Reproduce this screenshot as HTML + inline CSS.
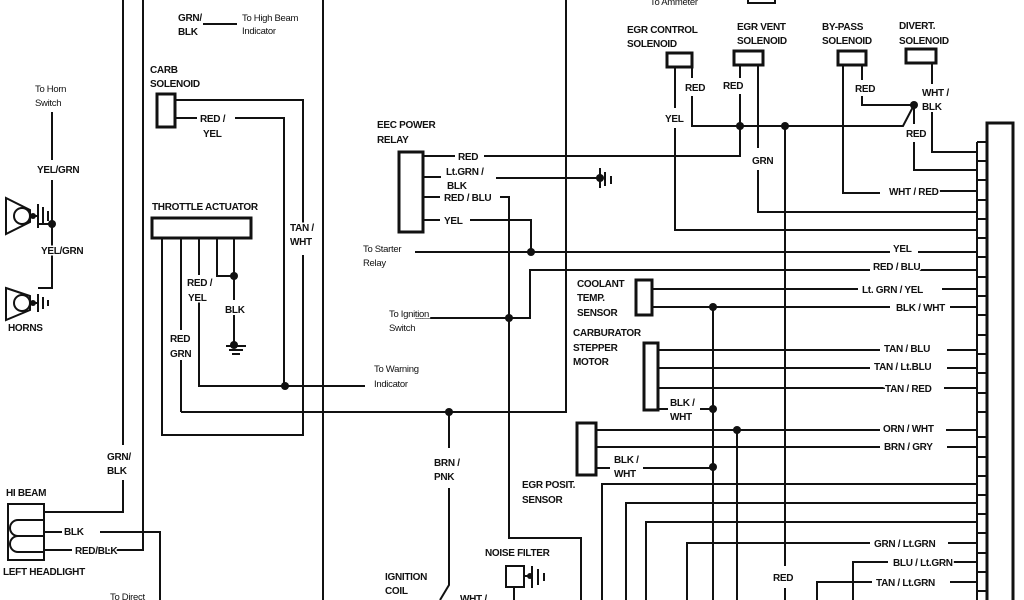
<!DOCTYPE html>
<html><head><meta charset="utf-8"><style>
html,body{margin:0;padding:0;background:#fff}
svg{display:block}
text{font-family:"Liberation Sans",Arial,sans-serif;font-weight:bold;font-size:10px;fill:#111;stroke:#fff;stroke-width:3px;paint-order:stroke;letter-spacing:-0.3px}
.s{font-size:9.5px;font-weight:normal}
</style></head><body>
<svg width="1024" height="600" viewBox="0 0 1024 600" xmlns="http://www.w3.org/2000/svg">
<g fill="none" stroke="#111" stroke-width="2">
<!-- long verticals -->
<path d="M123 0V445M123 480V512H44"/>
<path d="M143 0V550H105"/>
<path d="M323 0V600"/>
<path d="M566 0V412H181"/>
<!-- hi beam -->
<rect x="8" y="504" width="36" height="56"/>
<path d="M44 520H18a8 8 0 0 0 0 16H44M44 536H18a8 8 0 0 0 0 16H44"/>
<path d="M44 532H62M100 532H160V600M44 550H72"/>
<!-- horns -->
<path d="M52 112V160M52 180V288H38M52 224H38M52 260V240"/>
<path d="M6 198L30 210L30 222L6 234Z"/>
<circle cx="22" cy="216" r="8"/>
<path d="M30 216H38M38 204V228M43 207V225M48 211V221"/>
<path d="M6 288L30 296L30 310L6 320Z"/>
<circle cx="22" cy="303" r="8"/>
<path d="M30 303H38M38 294V312M43 297V309M48 300V306"/>
<!-- carb solenoid -->
<rect x="157" y="94" width="18" height="33" stroke-width="3"/>
<path d="M175 100H303V230M303 255V435H162V238M175 118H197M235 118H284V386H199V300M284 386H365"/>
<!-- throttle -->
<rect x="152" y="218" width="99" height="20" stroke-width="3"/>
<path d="M181 238V330M181 360V412M199 238V275M217 238V276H234V238M234 276V300M234 315V345M226 346H246M229 350H243M232 354H240"/>
<!-- EEC relay -->
<rect x="399" y="152" width="24" height="80" stroke-width="3"/>
<path d="M423 156H455M484 156H740V126M423 177H441M496 178H600"/>
<path d="M600 168V188M605 172V186M611 176V184"/>
<path d="M423 197H440M500 197H509V538H581V600"/>
<path d="M423 220H440M470 220H531V252M415 252H890M918 252H977"/>
<path d="M415 318H530V270H870M918 270H977"/>
<path d="M449 412V448M449 488V585L440 600"/>
<!-- top solenoids -->
<rect x="667" y="53" width="25" height="14" stroke-width="3"/>
<rect x="734" y="51" width="29" height="14" stroke-width="3"/>
<rect x="838" y="51" width="28" height="14" stroke-width="3"/>
<rect x="906" y="49" width="30" height="14" stroke-width="3"/>
<path d="M675 67V108M675 128V230H977"/>
<path d="M692 67V78M692 96V126H903L914 105M740 65V78M740 94V126"/>
<path d="M758 65V148M758 170V212H977"/>
<path d="M785 126V566M785 588V600"/>
<path d="M843 65V193H880M932 191H977M862 65V80M862 96V105H914V124M914 142V170H977"/>
<path d="M932 63V84M932 112V152H977"/>
<!-- connector -->
<rect x="987" y="123" width="26" height="480" stroke-width="3"/>
<path d="M977 142V600M977 142H987"/>
<path d="M977 161H987M977 180H987M977 200H987M977 219H987M977 238H987M977 257H987M977 277H987M977 296H987M977 315H987M977 335H987M977 354H987M977 373H987M977 393H987M977 412H987M977 437H987M977 457H987M977 476H987M977 495H987M977 514H987M977 533H987M977 553H987M977 572H987M977 591H987"/>
<!-- coolant -->
<rect x="636" y="280" width="16" height="35" stroke-width="3"/>
<path d="M652 289H858M942 289H977M652 307H890M950 307H977M713 307V600"/>
<rect x="644" y="343" width="14" height="67" stroke-width="3"/>
<path d="M658 350H880M947 350H977M658 368H870M947 368H977M658 388H885M944 388H977M658 409H668M700 409H713"/>
<rect x="577" y="423" width="19" height="52" stroke-width="3"/>
<path d="M596 430H880M946 430H977M737 430V600M596 447H880M947 447H977M596 468H610M643 468H713"/>
<path d="M602 600V484H977M626 600V503H977M646 600V522H977"/>
<path d="M687 600V543H870M948 543H977M853 600V562H888M950 562H977M817 600V582H872M950 582H977"/>
<!-- noise filter -->
<rect x="506" y="566" width="18" height="21"/>
<path d="M524 576H532M532 566V588M538 569V585M544 573V581M514 587V600"/>
<!-- top misc -->
<path d="M203 24H237M748 0V3H775V0"/>
</g>
<g fill="#111">
<circle cx="52" cy="224" r="4"/><circle cx="33" cy="216" r="3"/><circle cx="33" cy="303" r="3"/>
<circle cx="234" cy="276" r="4"/><circle cx="285" cy="386" r="4"/><circle cx="234" cy="345" r="4"/>
<circle cx="449" cy="412" r="4"/><circle cx="531" cy="252" r="4"/><circle cx="509" cy="318" r="4"/>
<circle cx="740" cy="126" r="4"/><circle cx="785" cy="126" r="4"/><circle cx="914" cy="105" r="4"/>
<circle cx="600" cy="178" r="4"/><circle cx="713" cy="307" r="4"/><circle cx="713" cy="409" r="4"/>
<circle cx="713" cy="467" r="4"/><circle cx="737" cy="430" r="4"/><circle cx="530" cy="576" r="3"/>
</g>
<text x="178" y="21">GRN/</text><text x="178" y="35">BLK</text>
<text x="242" y="21" class="s">To High Beam</text><text x="242" y="34" class="s">Indicator</text>
<text x="150" y="73">CARB</text><text x="150" y="87">SOLENOID</text>
<text x="200" y="122">RED /</text><text x="203" y="137">YEL</text>
<text x="35" y="92" class="s">To Horn</text><text x="35" y="106" class="s">Switch</text>
<text x="37" y="173">YEL/GRN</text><text x="41" y="254">YEL/GRN</text>
<text x="8" y="331">HORNS</text>
<text x="152" y="210">THROTTLE ACTUATOR</text>
<text x="290" y="231">TAN /</text><text x="290" y="245">WHT</text>
<text x="187" y="286">RED /</text><text x="188" y="301">YEL</text>
<text x="225" y="313">BLK</text>
<text x="170" y="342">RED</text><text x="170" y="357">GRN</text>
<text x="374" y="372" class="s">To Warning</text><text x="374" y="387" class="s">Indicator</text>
<text x="107" y="460">GRN/</text><text x="107" y="474">BLK</text>
<text x="6" y="496">HI BEAM</text>
<text x="64" y="535">BLK</text><text x="75" y="554">RED/BLK</text>
<text x="3" y="575">LEFT HEADLIGHT</text>
<text x="110" y="600" class="s">To Direct</text>
<text x="377" y="128">EEC POWER</text><text x="377" y="143">RELAY</text>
<text x="458" y="160">RED</text>
<text x="446" y="175">Lt.GRN /</text><text x="447" y="189">BLK</text>
<text x="444" y="201">RED / BLU</text>
<text x="444" y="224">YEL</text>
<text x="363" y="252" class="s">To Starter</text><text x="363" y="266" class="s">Relay</text>
<text x="389" y="317" class="s">To Ignition</text><text x="389" y="331" class="s">Switch</text>
<text x="434" y="466">BRN /</text><text x="434" y="480">PNK</text>
<text x="485" y="556">NOISE FILTER</text>
<text x="385" y="580">IGNITION</text><text x="385" y="594">COIL</text>
<text x="460" y="602">WHT /</text>
<text x="627" y="33">EGR CONTROL</text><text x="627" y="47">SOLENOID</text>
<text x="737" y="30">EGR VENT</text><text x="737" y="44">SOLENOID</text>
<text x="822" y="30">BY-PASS</text><text x="822" y="44">SOLENOID</text>
<text x="899" y="29">DIVERT.</text><text x="899" y="44">SOLENOID</text>
<text x="685" y="91">RED</text><text x="723" y="89">RED</text>
<text x="665" y="122">YEL</text>
<text x="855" y="92">RED</text>
<text x="922" y="96">WHT /</text><text x="922" y="110">BLK</text>
<text x="906" y="137">RED</text>
<text x="752" y="164">GRN</text>
<text x="889" y="195">WHT / RED</text>
<text x="893" y="252">YEL</text>
<text x="873" y="270">RED / BLU</text>
<text x="862" y="293">Lt. GRN / YEL</text>
<text x="896" y="311">BLK / WHT</text>
<text x="577" y="287">COOLANT</text><text x="577" y="301">TEMP.</text><text x="577" y="316">SENSOR</text>
<text x="573" y="336">CARBURATOR</text><text x="573" y="351">STEPPER</text><text x="573" y="365">MOTOR</text>
<text x="884" y="352">TAN / BLU</text>
<text x="874" y="370">TAN / Lt.BLU</text>
<text x="885" y="392">TAN / RED</text>
<text x="670" y="406">BLK /</text><text x="670" y="420">WHT</text>
<text x="883" y="432">ORN / WHT</text>
<text x="884" y="450">BRN / GRY</text>
<text x="614" y="463">BLK /</text><text x="614" y="477">WHT</text>
<text x="522" y="488">EGR POSIT.</text><text x="522" y="503">SENSOR</text>
<text x="874" y="547">GRN / Lt.GRN</text>
<text x="893" y="566">BLU / Lt.GRN</text>
<text x="876" y="586">TAN / Lt.GRN</text>
<text x="773" y="581">RED</text>
<text x="650" y="5" class="s">To Ammeter</text>
</svg>
</body></html>
